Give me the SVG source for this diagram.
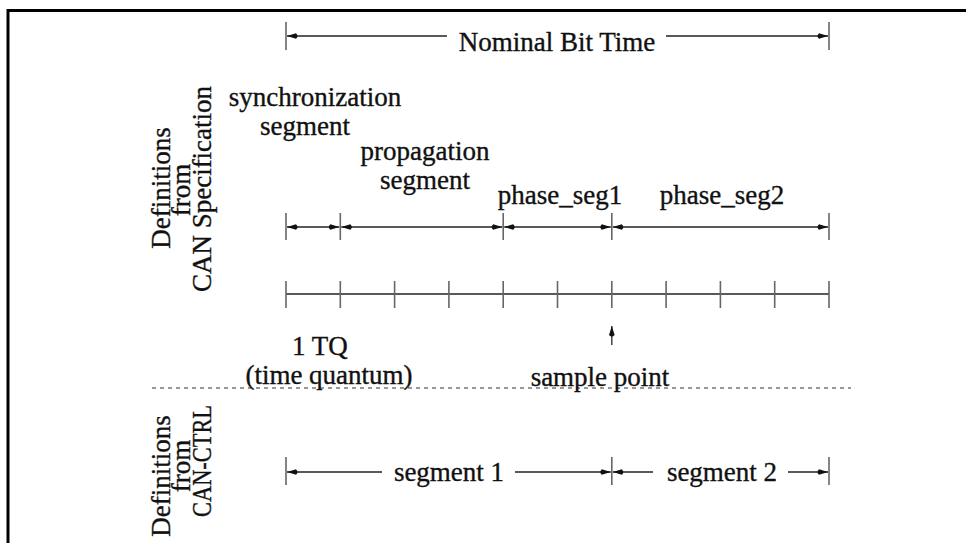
<svg xmlns="http://www.w3.org/2000/svg" width="966" height="543" viewBox="0 0 966 543">
<defs>
<style>
.t{font-family:"Liberation Serif","Times New Roman",serif;font-size:27px;fill:#111;stroke:#111;stroke-width:0.35;}
.m{text-anchor:middle;}
.tk{stroke:#666;stroke-width:1.6;}
.ln{stroke:#222;stroke-width:1.5;fill:none;}
.ar{stroke:#222;stroke-width:1.5;fill:none;marker-start:url(#ah);marker-end:url(#ah);}
.al{stroke:#222;stroke-width:1.5;fill:none;marker-start:url(#ah);}
.ae{stroke:#222;stroke-width:1.5;fill:none;marker-end:url(#ah);}
</style>
<marker id="ah" markerUnits="userSpaceOnUse" markerWidth="14" markerHeight="8" refX="12" refY="4" orient="auto-start-reverse" viewBox="0 0 14 8">
<path d="M12,4 L3,1.2 Q0,4 3,6.8 Z" fill="#111"/>
</marker>
</defs>
<rect width="966" height="543" fill="#fff"/>
<g id="border">
<path d="M8,543 V10.5 H966" stroke="#000" stroke-width="3" fill="none"/>
</g>
<g id="connectors">
<line class="tk" x1="286" y1="22" x2="286" y2="50"/>
<line class="tk" x1="829" y1="22" x2="829" y2="50"/>
<line class="al" x1="287" y1="36" x2="447" y2="36"/>
<line class="ae" x1="666" y1="36" x2="828" y2="36"/>
<line class="tk" x1="286" y1="213" x2="286" y2="240"/>
<line class="tk" x1="340.3" y1="213" x2="340.3" y2="240"/>
<line class="tk" x1="503.2" y1="213" x2="503.2" y2="240"/>
<line class="tk" x1="611.8" y1="213" x2="611.8" y2="240"/>
<line class="tk" x1="829" y1="213" x2="829" y2="240"/>
<line class="ar" x1="287" y1="227" x2="339.3" y2="227"/>
<line class="ar" x1="341.3" y1="227" x2="502.2" y2="227"/>
<line class="ar" x1="504.2" y1="227" x2="610.8" y2="227"/>
<line class="ar" x1="612.8" y1="227" x2="828" y2="227"/>
<line class="ln" x1="286" y1="294" x2="829" y2="294"/>
<line class="tk" x1="286" y1="281" x2="286" y2="308"/>
<line class="tk" x1="340.3" y1="281" x2="340.3" y2="308"/>
<line class="tk" x1="394.6" y1="281" x2="394.6" y2="308"/>
<line class="tk" x1="448.9" y1="281" x2="448.9" y2="308"/>
<line class="tk" x1="503.2" y1="281" x2="503.2" y2="308"/>
<line class="tk" x1="557.5" y1="281" x2="557.5" y2="308"/>
<line class="tk" x1="611.8" y1="281" x2="611.8" y2="308"/>
<line class="tk" x1="666.1" y1="281" x2="666.1" y2="308"/>
<line class="tk" x1="720.4" y1="281" x2="720.4" y2="308"/>
<line class="tk" x1="774.7" y1="281" x2="774.7" y2="308"/>
<line class="tk" x1="829" y1="281" x2="829" y2="308"/>
<line x1="611.8" y1="345" x2="611.8" y2="326" stroke="#444" stroke-width="1.5" marker-end="url(#ah)"/>
<line x1="152" y1="388" x2="851" y2="388" stroke="#333" stroke-width="1.2" stroke-dasharray="4,4"/>
<line class="tk" x1="286" y1="457" x2="286" y2="485"/>
<line class="tk" x1="611.8" y1="457" x2="611.8" y2="485"/>
<line class="tk" x1="829" y1="457" x2="829" y2="485"/>
<line class="al" x1="287" y1="472" x2="382" y2="472"/>
<line class="ae" x1="515" y1="472" x2="610.8" y2="472"/>
<line class="al" x1="612.8" y1="472" x2="653" y2="472"/>
<line class="ae" x1="788" y1="472" x2="828" y2="472"/>
</g>
<g id="nominal"><text class="t m" x="557" y="51">Nominal Bit Time</text></g>
<g id="sync"><text class="t m" x="315" y="106">synchronization</text><text class="t m" x="305" y="135">segment</text></g>
<g id="prop"><text class="t m" x="425" y="160">propagation</text><text class="t m" x="425" y="189">segment</text></g>
<g id="ps1"><text class="t m" x="560" y="204">phase_seg1</text></g>
<g id="ps2"><text class="t m" x="722" y="204">phase_seg2</text></g>
<g id="tq"><text class="t m" x="320" y="355">1 TQ</text><text class="t m" x="329" y="384">(time quantum)</text></g>
<g id="sample"><text class="t m" x="600" y="386">sample point</text></g>
<g id="seg1"><text class="t m" x="449" y="481">segment 1</text></g>
<g id="seg2"><text class="t m" x="722" y="481">segment 2</text></g>
<g id="spec-label">
<text class="t m" transform="translate(170,188) rotate(-90)">Definitions</text>
<text class="t m" transform="translate(190,190) rotate(-90)">from</text>
<text class="t m" transform="translate(211,189) rotate(-90)">CAN Specification</text>
</g>
<g id="ctrl-label">
<text class="t m" transform="translate(170,476) rotate(-90)">Definitions</text>
<text class="t m" transform="translate(190,466) rotate(-90)">from</text>
<text class="t m" transform="translate(211,461) rotate(-90)" textLength="112" lengthAdjust="spacingAndGlyphs">CAN-CTRL</text>
</g>
</svg>
